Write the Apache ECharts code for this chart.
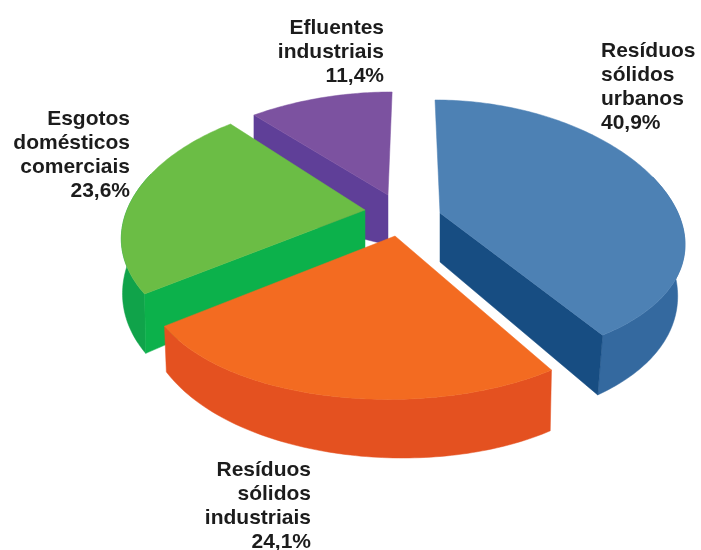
<!DOCTYPE html>
<html>
<head>
<meta charset="utf-8">
<style>html,body{margin:0;padding:0;background:#fff}#chart{width:701px;height:550px}</style>
<script src="https://cdn.jsdelivr.net/npm/echarts@6/dist/echarts.min.js"></script>
</head>
<body>
<div id="chart"></div>
<script>
// Shares of pollution sources, clockwise from the back of the pie
const categories = ['Resíduos\nsólidos\nurbanos', 'Resíduos\nsólidos\nindustriais', 'Esgotos\ndomésticos\ncomerciais', 'Efluentes\nindustriais'];
const shares = [40.9, 24.1, 23.6, 11.4];

// Face colours per slice
const topColors = ['#4d81b4', '#f36b21', '#6bbd45', '#7c52a0'];
const cutColors = ['#174d82', '#e45120', '#0cb14b', '#5f3f98'];
const rimColors = ['#34699f', '#e45120', '#10a34a', '#5f3f98'];

// Projection of each exploded slice onto the page: tip, radii, foreshortening,
// extrusion depth, which cut face shows, and paint order (back to front)
const sliceViews = [
  { tip: [440, 213], rx: 238, ry: 128.5, kx: 0.215, ky: 0.137, shear: 0.044, depth: 49, tilt: 0, inward: 0.03, cut: 'end', layer: 2 },
  { tip: [395, 236], rx: 245, ry: 141, kx: 0.215, ky: 0.137, shear: -0.04, depth: 46, tilt: 0.03, inward: 0.008, cut: 'none', layer: 3 },
  { tip: [365, 210], rx: 238, ry: 128.6, kx: 0.215, ky: 0.17, shear: 0, depth: 49, tilt: -0.015, inward: 0.005, cut: 'start', layer: 1 },
  { tip: [388, 195], rx: 243, ry: 116, kx: 0.215, ky: 0.126, shear: -0.04, depth: 50, tilt: -0.4, inward: 0, cut: 'start', layer: 0 }
];
const labelViews = [
  { x: 601, y: 51, align: 'left' },
  { x: 311, y: 470, align: 'right' },
  { x: 130, y: 119, align: 'right' },
  { x: 384, y: 28, align: 'right' }
];
const labelFont = 'bold 21px "Liberation Sans", Arial, sans-serif';
const labelLineHeight = 24;

const total = shares.reduce((a, b) => a + b, 0);

// Point on the top face at angle t (radians clockwise from the back)
function topPoint(v, t) {
  const c = Math.cos(t), s = Math.sin(t);
  const dy = -v.ry * c / (1 + v.ky * c);
  const dx = v.rx * s / (1 + v.kx * c) + v.shear * dy;
  return [v.tip[0] + dx, v.tip[1] + dy];
}
// Matching point on the bottom face
function bottomPoint(v, p, t) {
  const scale = t === null ? 1 : 1 / (1 + v.kx * Math.cos(t));
  const dx = p[0] - v.tip[0];
  const d = v.depth * scale + v.tilt * dx;
  return [p[0] - v.inward * dx, p[1] + d];
}

function renderSlice(params, api) {
  const i = params.dataIndex;
  const v = sliceViews[i];
  let before = 0;
  for (let k = 0; k < i; k++) before += shares[k];
  const value = api.value(0);
  const a0 = before / total * 2 * Math.PI;
  const a1 = (before + value) / total * 2 * Math.PI;

  const steps = Math.max(8, Math.round((a1 - a0) * 180 / Math.PI));
  const arc = [], lower = [], rimTop = [], rimLow = [];
  for (let n = 0; n <= steps; n++) {
    const t = a0 + (a1 - a0) * n / steps;
    const p = topPoint(v, t);
    const q = bottomPoint(v, p, t);
    arc.push(p);
    lower.push(q);
    // only the front of the outer wall can be seen
    if (Math.cos(t) < 0.3) { rimTop.push(p); rimLow.push(q); }
  }
  const tipLow = bottomPoint(v, v.tip, null);
  const poly = (pts, fill, z2) => ({ type: 'polygon', z2, shape: { points: pts }, style: { fill, stroke: fill, lineWidth: 0.5 } });
  const base = v.layer * 10;
  const lb = labelViews[i];

  const children = [];
  if (rimTop.length > 1) children.push(poly(rimTop.concat(rimLow.reverse()), rimColors[i], base));
  if (v.cut === 'start') children.push(poly([v.tip, arc[0], lower[0], tipLow], cutColors[i], base + 1));
  if (v.cut === 'end') children.push(poly([v.tip, arc[steps], lower[steps], tipLow], cutColors[i], base + 1));
  children.push(poly([v.tip].concat(arc), topColors[i], base + 2));
  children.push({
    type: 'text', z2: 100,
    x: lb.x, y: lb.y - labelLineHeight / 2,
    style: {
      text: categories[i] + '\n' + value.toFixed(1).replace('.', ',') + '%',
      font: labelFont, fill: '#1c1c1c', align: lb.align, verticalAlign: 'top',
      lineHeight: labelLineHeight
    }
  });
  return { type: 'group', children };
}

const chart = echarts.init(document.getElementById('chart'), null, { renderer: 'canvas' });
chart.setOption({
  backgroundColor: '#ffffff',
  animation: false,
  series: [{
    type: 'custom',
    coordinateSystem: 'none',
    clip: false,
    silent: true,
    data: shares.map((s, i) => ({ name: categories[i], value: [s, i] })),
    renderItem: renderSlice
  }]
});
</script>
</body>
</html>
